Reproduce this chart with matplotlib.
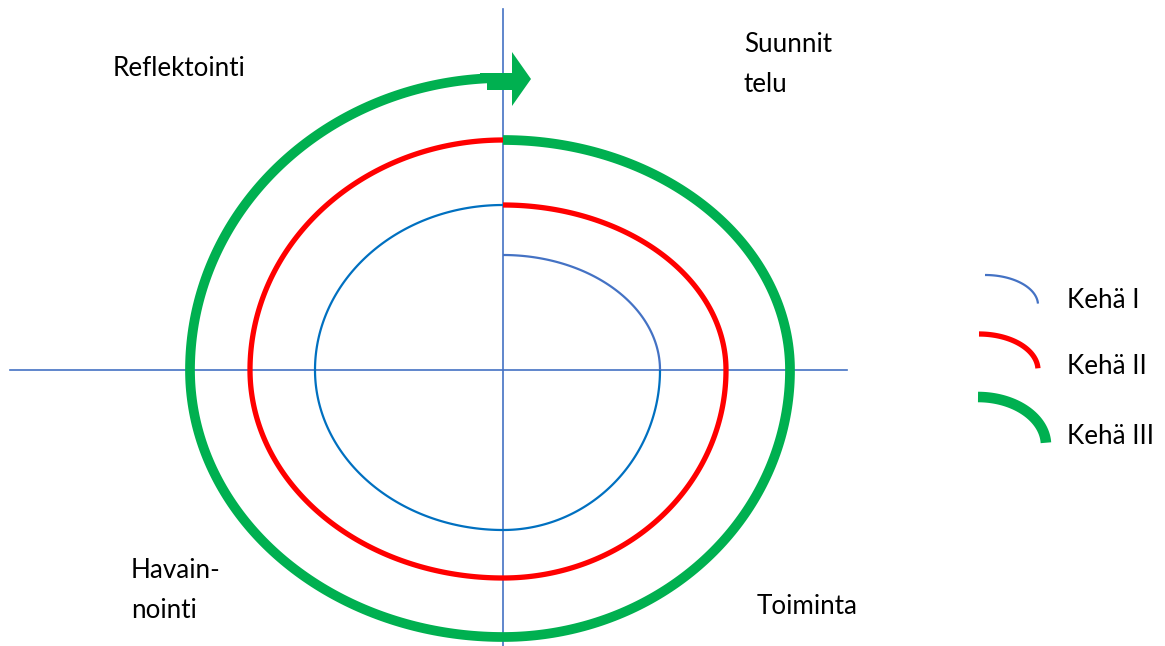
import numpy as np
import matplotlib
matplotlib.use("Agg")
import matplotlib.pyplot as plt

# ---- data ----
rings = ["Kehä I", "Kehä II", "Kehä III"]
# semi-axis extents (px from centre) along the path: top start, right, bottom, left, top end
ring_top_start = [115, 165, 230]
ring_right = [157, 223, 287]
ring_bottom = [160, 208, 267]
ring_left = [188, 253, 313]
ring_top_end = [165, 230, 292]
ring_colors = ["#0070C0", "#FF0000", "#00B050"]
ring_first_q_colors = ["#4472C4", "#FF0000", "#00B050"]
ring_widths = [1.6, 3.8, 7.0]

phase_labels = ["Reflektointi", "Suunnit\ntelu", "Havain-\nnointi", "Toiminta"]
phase_xy = [(113, 68), (744, 65), (131, 591), (757, 606)]

centre = (503, 370)

fig = plt.figure(figsize=(11.65, 6.46), dpi=100)
ax = fig.add_axes([0, 0, 1, 1])
ax.set_xlim(0, 1165)
ax.set_ylim(646, 0)
ax.axis("off")

font = "Lato"
fs = 18.7

# axes cross
cx, cy = centre
ax.plot([10, 847], [cy, cy], color="#4472C4", lw=1.2, zorder=1)
ax.plot([cx, cx], [9, 646], color="#4472C4", lw=1.2, zorder=1)

t = np.linspace(0, np.pi / 2, 100)
for i in range(3):
    T, R, B, L, T2 = (ring_top_start[i], ring_right[i], ring_bottom[i],
                      ring_left[i], ring_top_end[i])
    c, c1, w = ring_colors[i], ring_first_q_colors[i], ring_widths[i]
    # Q1: top -> right
    ax.plot(cx + R * np.sin(t), cy - T * np.cos(t), color=c1, lw=w,
            solid_capstyle="butt", zorder=2)
    # right -> bottom
    ax.plot(cx + R * np.cos(t), cy + B * np.sin(t), color=c, lw=w,
            solid_capstyle="butt", zorder=2)
    # bottom -> left
    ax.plot(cx - L * np.sin(t), cy + B * np.cos(t), color=c, lw=w,
            solid_capstyle="butt", zorder=2)
    # left -> top
    ax.plot(cx - L * np.cos(t), cy - T2 * np.sin(t), color=c, lw=w,
            solid_capstyle="butt", zorder=2)

# arrow at end of outer ring
ytop = cy - ring_top_end[2]
ax.fill([487, 512, 512, 531, 512, 512, 487],
        [ytop - 5, ytop - 5, ytop - 26, ytop + 1, ytop + 28, ytop + 12, ytop + 12],
        color="#00B050", lw=0, zorder=3)
ax.fill([480, 503, 503, 480], [ytop - 4.8, ytop - 4.8, ytop + 4.8, ytop + 4.8],
        color="#00B050", lw=0, zorder=3)

# phase labels
for lab, (x, y) in zip(phase_labels, phase_xy):
    ax.text(x, y, lab, fontsize=fs, family=font, ha="left", va="center",
            linespacing=1.75, color="#000000")

# legend arcs
leg_arcs = [((985, 305), 53, 30), ((979, 370), 59, 36), ((978, 445), 68, 48)]
leg_text_y = [300, 367, 436]
tt = np.linspace(0, np.pi / 2 * 0.97, 60)
for i in range(3):
    (ox, oy), rx, ry = leg_arcs[i]
    ax.plot(ox + rx * np.sin(tt), oy - ry * np.cos(tt),
            color=ring_first_q_colors[i] if i == 0 else ring_colors[i],
            lw=ring_widths[i] + (0.6 if i == 2 else 0),
            solid_capstyle="butt")
    ax.text(1067, leg_text_y[i], rings[i], fontsize=fs, family=font,
            ha="left", va="center", color="#000000")

fig.savefig("out.png", dpi=100, facecolor="white")
